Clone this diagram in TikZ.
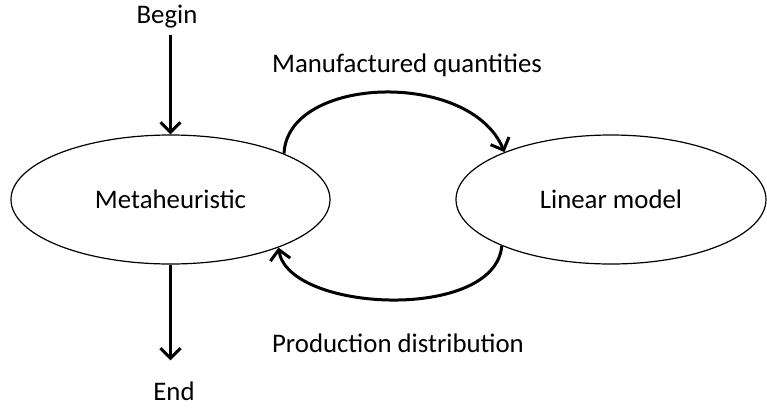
\documentclass[tikz,border=0pt]{standalone}
\usepackage{fontspec}
\setmainfont{Carlito}
\usetikzlibrary{arrows.meta,shapes,positioning}

\begin{document}
\begin{tikzpicture}[x=0.5pt,y=-0.5pt,font=\fontsize{13.4}{16}\selectfont,
    blob/.style={ellipse, draw, line width=0.6pt, minimum height=64.5pt},
    flow/.style={-{Straight Barb[length=5pt,width=10pt]}, line width=1.5pt}]
      \useasboundingbox (0,0) rectangle (767,408);
      \node[anchor=base] at (167,23) (begin) {Begin};
      \node[blob, minimum width=159.5pt] at (170.5,199.5) (meta) {Metaheuristic};
      \node[blob, minimum width=155pt] at (611,199.5) (lin) {Linear model};
      \node[anchor=base] at (407,72) (manq) {Manufactured quantities};
      \node[anchor=base] at (398,352) (prod) {Production distribution};
      \node[anchor=base] at (174,400) (end) {End};
      \draw[flow] (meta.north |- begin.south) -- (meta.north);
      \draw[flow, shorten >=7pt] (meta.south) -- (meta.south |- end.north);
      \draw[flow] (meta.22.5) .. controls +(3,-78) and +(-34.5,-83) .. (lin.156.3);
      \draw[flow] (lin.203.7) .. controls +(-6.5,76) and +(10,65) .. (meta.336);
\end{tikzpicture}
\end{document}
